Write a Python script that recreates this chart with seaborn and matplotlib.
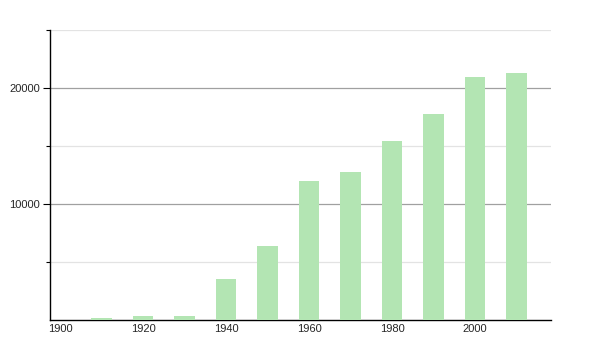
import matplotlib
matplotlib.use("Agg")
import matplotlib.pyplot as plt
import seaborn as sns
import pandas as pd
from matplotlib.ticker import FixedLocator

years = [1910, 1920, 1930, 1940, 1950, 1960, 1970, 1980, 1990, 2000, 2010]
population = [200, 370, 370, 3560, 6380, 11980, 12760, 15400, 17730, 20920, 21290]
x_ticks = [1900, 1920, 1940, 1960, 1980, 2000]
y_major = [10000, 20000]
y_minor = [5000, 15000, 25000]

sns.set_style("white")
plt.rcParams['font.family'] = ['Liberation Sans', 'DejaVu Sans']

df = pd.DataFrame({"year": years, "population": population})

fig = plt.figure(figsize=(6, 3.5), dpi=100)
ax = fig.add_axes([50/600, 30/350, 501/600, 290/350])

sns.barplot(data=df, x="year", y="population", native_scale=True,
            color="#b3e5b3", saturation=1, width=0.5, linewidth=0,
            edgecolor="none", ax=ax, zorder=3)

ax.set_xlim(1897.6, 2018.3)
ax.set_ylim(0, 25000)

ax.yaxis.set_major_locator(FixedLocator(y_major))
ax.yaxis.set_minor_locator(FixedLocator(y_minor))
ax.set_xticks(x_ticks)
ax.set_xticklabels([str(t) for t in x_ticks])

ax.grid(axis="y", which="major", color="#a0a0a0", linewidth=0.9, zorder=1)
ax.grid(axis="y", which="minor", color="#e3e3e3", linewidth=0.9, zorder=1)
ax.set_axisbelow(True)

ax.tick_params(axis="y", which="major", length=5, width=0.8, color="black",
               labelsize=8, pad=2, left=True)
ax.tick_params(axis="y", which="minor", length=3, width=0.8, color="black", left=True)
ax.tick_params(axis="x", length=0, labelsize=8, pad=3)

for s in ["top", "right"]:
    ax.spines[s].set_visible(False)
ax.spines["left"].set_color("black")
ax.spines["left"].set_linewidth(1.0)
ax.spines["bottom"].set_color("black")
ax.spines["bottom"].set_linewidth(1.0)

ax.set_xlabel("")
ax.set_ylabel("")

fig.savefig("out.png", dpi=100)
